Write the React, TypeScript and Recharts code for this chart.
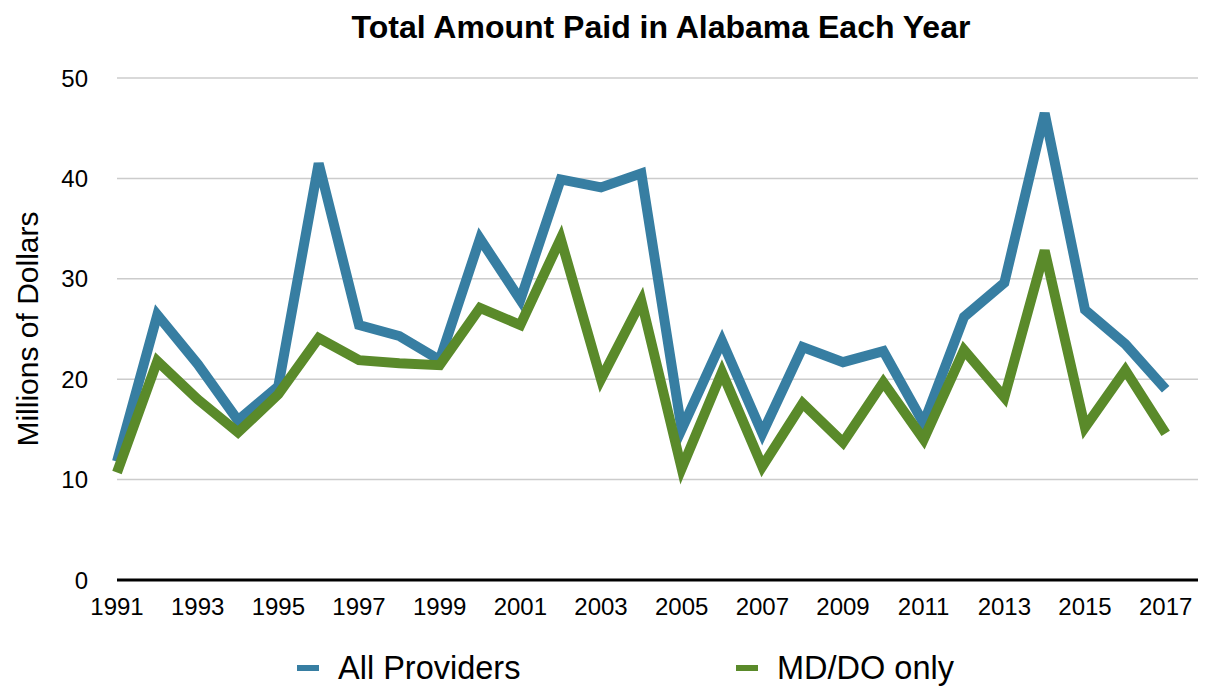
import React from 'react';
import { LineChart, Line, XAxis, YAxis, CartesianGrid, Legend } from 'recharts';

const years = [1991, 1992, 1993, 1994, 1995, 1996, 1997, 1998, 1999, 2000, 2001, 2002, 2003, 2004, 2005, 2006, 2007, 2008, 2009, 2010, 2011, 2012, 2013, 2014, 2015, 2016, 2017];
const allProviders = [11.8, 26.4, 21.5, 15.9, 19.3, 41.5, 25.4, 24.3, 21.9, 34.0, 27.9, 39.9, 39.1, 40.5, 15.0, 23.8, 14.6, 23.2, 21.7, 22.8, 15.6, 26.2, 29.6, 46.5, 26.9, 23.5, 19.0];
const mdDoOnly = [10.7, 21.8, 18.0, 14.7, 18.5, 24.1, 21.9, 21.6, 21.4, 27.1, 25.4, 34.0, 20.0, 27.8, 11.1, 20.7, 11.3, 17.6, 13.7, 19.7, 14.0, 22.9, 18.2, 32.8, 15.2, 20.9, 14.6];
const xTicks = [1991, 1993, 1995, 1997, 1999, 2001, 2003, 2005, 2007, 2009, 2011, 2013, 2015, 2017];
const yTicks = [0, 10, 20, 30, 40, 50];

const data = years.map((y, i) => ({ year: y, all: allProviders[i], md: mdDoOnly[i] }));

const FONT = '"Liberation Sans", Arial, Helvetica, sans-serif';
const BLUE = '#377ea2';
const GREEN = '#5a8a2a';

const legendLefts = [289, 728];

const LegendContent = (props: any) => {
  const payload = props.payload || [];
  return (
    <div style={{ position: 'relative', width: 1198, height: 40 }}>
      {payload.map((p: any, i: number) => (
        <div key={i} style={{ position: 'absolute', left: legendLefts[i], top: 0, display: 'flex', alignItems: 'center', fontFamily: FONT, fontSize: 32.5, lineHeight: '38px', color: '#000', whiteSpace: 'nowrap' }}>
          <span style={{ display: 'inline-block', width: 22, height: 6, background: p.color, marginRight: 19 }} />
          <span>{p.value}</span>
        </div>
      ))}
    </div>
  );
};

const YLabel = (props: any) => {
  const vb = props.viewBox || {};
  const cx = 19;
  const cy = vb.y + vb.height / 2;
  return (
    <text x={cx} y={cy} transform={`rotate(-90 ${cx} ${cy})`} textAnchor="middle" dominantBaseline="central" fontFamily={FONT} fontSize={30} fill="#000">
      Millions of Dollars
    </text>
  );
};

export default function App() {
  return (
    <div style={{ position: 'relative', width: 1198, height: 679 }}>
      <div style={{ position: 'absolute', left: 0, top: 1, width: 1306, textAlign: 'center', fontFamily: FONT, fontWeight: 'bold', fontSize: 32, color: '#000', pointerEvents: 'none' }}>
        Total Amount Paid in Alabama Each Year
      </div>
      <LineChart width={1198} height={679} data={data} margin={{ top: 70, right: 0, bottom: 37, left: 0 }}>
        <CartesianGrid vertical={false} stroke="#cccccc" strokeWidth={1.5} />
        <XAxis
          dataKey="year"
          type="number"
          domain={[1991, 2018]}
          ticks={xTicks}
          tickLine={false}
          tickSize={0}
          tickMargin={18}
          axisLine={{ stroke: '#000', strokeWidth: 3 }}
          tick={{ fill: '#000', fontSize: 24, fontFamily: FONT }}
          interval={0}
        />
        <YAxis
          width={109}
          domain={[0, 50]}
          ticks={yTicks}
          tickLine={false}
          axisLine={false}
          tickSize={0}
          tickMargin={29}
          tick={{ fill: '#000', fontSize: 24, fontFamily: FONT }}
          label={<YLabel />}
        />
        <Legend content={<LegendContent />} wrapperStyle={{ position: 'absolute', left: 0, top: 641, width: 1198, height: 40 }} />
        <Line type="linear" dataKey="all" name="All Providers" stroke={BLUE} strokeWidth={10} dot={false} isAnimationActive={false} />
        <Line type="linear" dataKey="md" name="MD/DO only" stroke={GREEN} strokeWidth={10} dot={false} isAnimationActive={false} />
      </LineChart>
    </div>
  );
}
